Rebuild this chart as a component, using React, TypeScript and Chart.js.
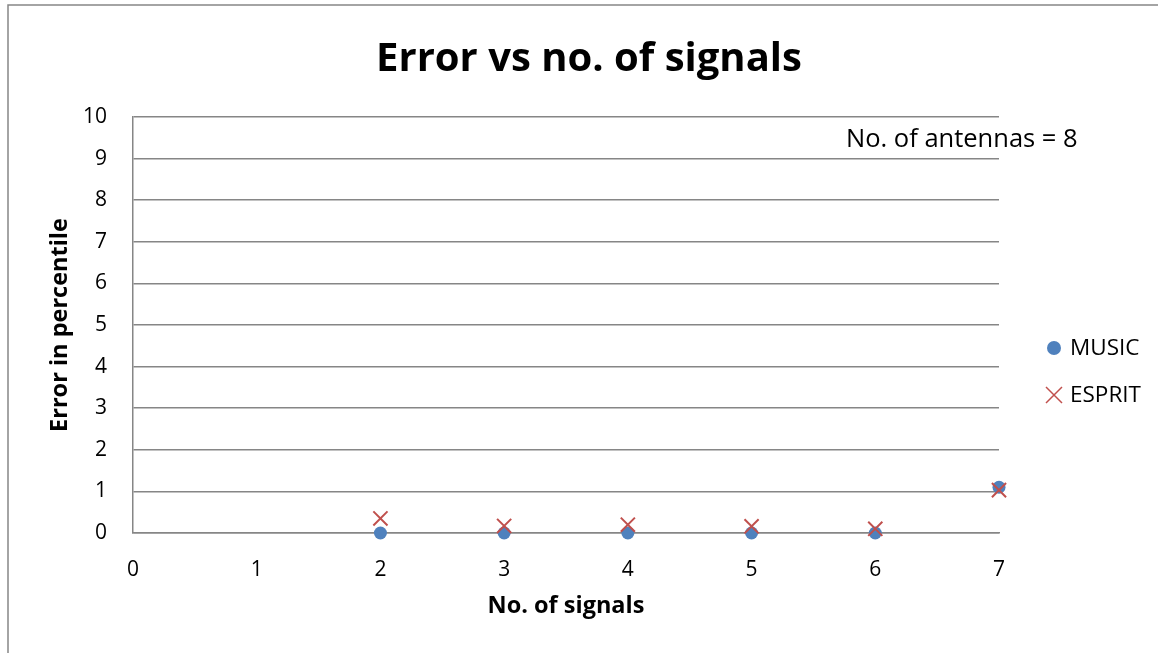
import React, { useEffect, useRef } from "react";
import { Chart, registerables } from "chart.js";

Chart.register(...registerables);

const signals = [2, 3, 4, 5, 6, 7];
const musicErr = [0, 0, 0, 0, 0, 1.1];
const espritErr = [0.35, 0.17, 0.2, 0.16, 0.1, 1.03];
const xTicks = [0, 1, 2, 3, 4, 5, 6, 7];
const yTicks = [0, 1, 2, 3, 4, 5, 6, 7, 8, 9, 10];

const TITLE = "Error vs no. of signals";
const NOTE = "No. of antennas = 8";
const FONT = "'Open Sans', Lato, sans-serif";
const GRID = "#868686";
const MUSIC_COLOR = "#4F81BD";
const ESPRIT_COLOR = "#C0504D";

const decorPlugin = {
  id: "decor",
  beforeDraw(chart: any) {
    const ctx = chart.ctx;
    ctx.save();
    ctx.fillStyle = "#ffffff";
    ctx.fillRect(0, 0, chart.width, chart.height);
    ctx.strokeStyle = GRID;
    ctx.lineWidth = 1.5;
    ctx.beginPath();
    ctx.moveTo(8, chart.height);
    ctx.lineTo(8, 5);
    ctx.lineTo(chart.width, 5);
    ctx.stroke();
    ctx.restore();
  },
  afterDraw(chart: any) {
    const ctx = chart.ctx;
    ctx.save();
    // title
    ctx.fillStyle = "#000";
    ctx.font = `bold 40px ${FONT}`;
    ctx.textAlign = "center";
    ctx.textBaseline = "alphabetic";
    ctx.fillText(TITLE, 589, 71);
    // annotation
    ctx.font = `25.5px ${FONT}`;
    ctx.textAlign = "left";
    ctx.fillText(NOTE, 846, 147);
    // legend
    const ds = chart.data.datasets;
    const items = [
      { label: ds[0].label, y: 348, kind: "circle", color: ds[0].backgroundColor },
      { label: ds[1].label, y: 395, kind: "cross", color: ds[1].borderColor },
    ];
    for (const it of items) {
      if (it.kind === "circle") {
        ctx.fillStyle = it.color;
        ctx.beginPath();
        ctx.arc(1054, it.y, 7, 0, Math.PI * 2);
        ctx.fill();
      } else {
        ctx.strokeStyle = it.color;
        ctx.lineWidth = 1.5;
        ctx.beginPath();
        ctx.moveTo(1046, it.y - 8);
        ctx.lineTo(1062, it.y + 8);
        ctx.moveTo(1062, it.y - 8);
        ctx.lineTo(1046, it.y + 8);
        ctx.stroke();
      }
      ctx.fillStyle = "#000";
      ctx.font = `22.5px ${FONT}`;
      ctx.textAlign = "left";
      ctx.textBaseline = "middle";
      ctx.fillText(it.label, 1070, it.y + 1);
    }
    ctx.restore();
  },
};

export default function App() {
  const ref = useRef<HTMLCanvasElement>(null);
  useEffect(() => {
    if (!ref.current) return;
    const chart = new Chart(ref.current, {
      type: "scatter",
      data: {
        datasets: [
          {
            label: "MUSIC",
            data: signals.map((x, i) => ({ x, y: musicErr[i] })),
            backgroundColor: MUSIC_COLOR,
            borderColor: MUSIC_COLOR,
            pointStyle: "circle",
            pointRadius: 6.5,
            borderWidth: 0,
            order: 2,
            clip: false,
          },
          {
            label: "ESPRIT",
            data: signals.map((x, i) => ({ x, y: espritErr[i] })),
            backgroundColor: ESPRIT_COLOR,
            borderColor: ESPRIT_COLOR,
            pointStyle: "crossRot",
            pointRadius: 10,
            borderWidth: 2,
            order: 1,
            clip: false,
          },
        ],
      },
      options: {
        animation: false,
        responsive: false,
        maintainAspectRatio: false,
        layout: { padding: { top: 117, right: 159, left: 0, bottom: 0 } },
        plugins: {
          legend: { display: false },
          title: { display: false },
          tooltip: { enabled: false },
        },
        scales: {
          x: {
            type: "linear",
            min: 0,
            max: 7,
            afterFit: (s: any) => {
              s.height = 120;
            },
            afterBuildTicks: (s: any) => {
              s.ticks = xTicks.map((v) => ({ value: v }));
            },
            grid: { display: false, drawTicks: false },
            border: { display: true, color: GRID, width: 1.5 },
            ticks: {
              padding: 24,
              color: "#000",
              font: { family: FONT, size: 21 },
            },
            title: {
              display: true,
              text: "No. of signals",
              color: "#000",
              font: { family: FONT, size: 23.5, weight: "bold" },
              padding: { top: 0, bottom: 33 },
            },
          },
          y: {
            type: "linear",
            min: 0,
            max: 10,
            afterFit: (s: any) => {
              s.width = 133;
            },
            afterBuildTicks: (s: any) => {
              s.ticks = yTicks.map((v) => ({ value: v }));
            },
            grid: { color: GRID, lineWidth: 1.5, drawTicks: false },
            border: { display: true, color: GRID, width: 1.5 },
            ticks: {
              padding: 26,
              color: "#000",
              font: { family: FONT, size: 21 },
            },
            title: {
              display: true,
              text: "Error in percentile",
              color: "#000",
              font: { family: FONT, size: 23.5, weight: "bold" },
              padding: { top: 46, bottom: 0 },
            },
          },
        },
      },
      plugins: [decorPlugin],
    });
    return () => chart.destroy();
  }, []);
  return (
    <div style={{ position: "fixed", left: 0, top: 0, width: 1158, height: 653 }}>
      <canvas ref={ref} width={1158} height={653} style={{ width: 1158, height: 653, display: "block" }} />
    </div>
  );
}
